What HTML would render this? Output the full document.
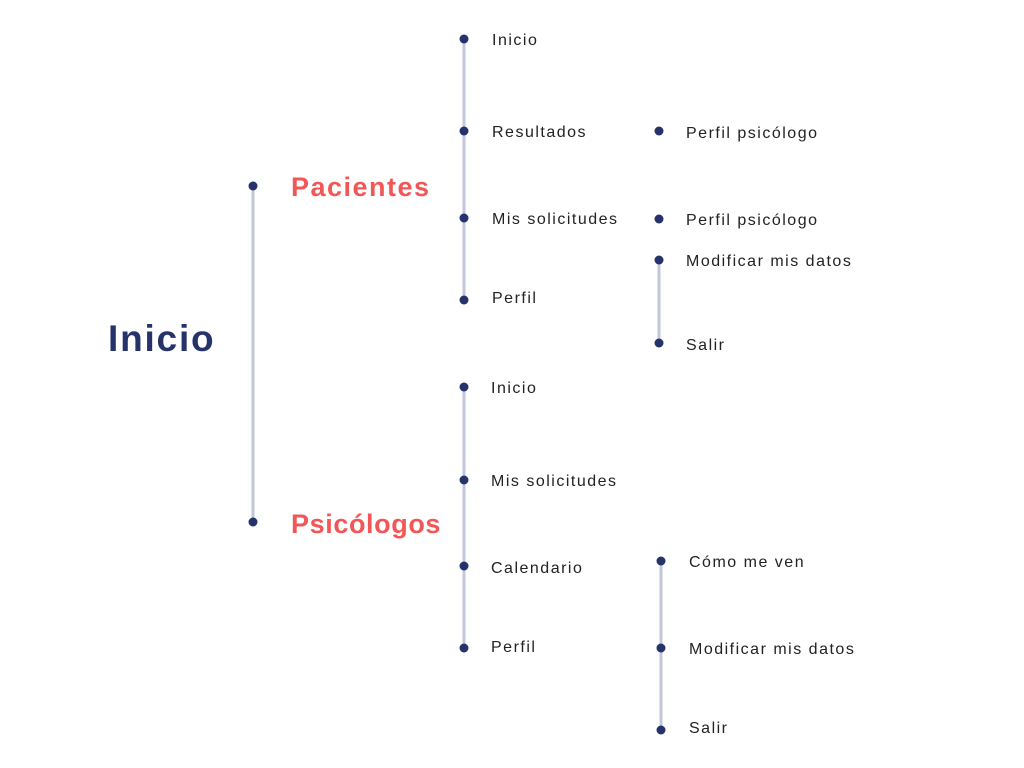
<!DOCTYPE html>
<html><head><meta charset="utf-8"><style>
html,body{margin:0;padding:0;background:#fff;}
svg{display:block;}
text{font-family:"Liberation Sans",sans-serif;}
.t{font-size:16px;fill:#222;letter-spacing:1.5px;}
</style></head><body>
<svg width="1024" height="768" viewBox="0 0 1024 768">
<g stroke="#c2c7da" stroke-width="3">
<line x1="253" y1="186" x2="253" y2="522"/>
<line x1="464" y1="39" x2="464" y2="299"/>
<line x1="464" y1="387" x2="464" y2="648"/>
<line x1="659" y1="260" x2="659" y2="343"/>
<line x1="661" y1="561" x2="661" y2="730"/>
</g>
<g fill="#26336b">
<circle cx="253" cy="186" r="4.5"/><circle cx="253" cy="522" r="4.5"/>
<circle cx="464" cy="39" r="4.5"/><circle cx="464" cy="131" r="4.5"/><circle cx="464" cy="218" r="4.5"/><circle cx="464" cy="300" r="4.5"/>
<circle cx="464" cy="387" r="4.5"/><circle cx="464" cy="480" r="4.5"/><circle cx="464" cy="566" r="4.5"/><circle cx="464" cy="648" r="4.5"/>
<circle cx="659" cy="131" r="4.5"/><circle cx="659" cy="219" r="4.5"/><circle cx="659" cy="260" r="4.5"/><circle cx="659" cy="343" r="4.5"/>
<circle cx="661" cy="561" r="4.5"/><circle cx="661" cy="648" r="4.5"/><circle cx="661" cy="730" r="4.5"/>
</g>
<text x="108" y="351" font-size="37" font-weight="bold" fill="#26336b" letter-spacing="1.8">Inicio</text>
<text x="291" y="196" font-size="27" font-weight="bold" fill="#f25757" letter-spacing="1.5">Pacientes</text>
<text x="291" y="533" font-size="27" font-weight="bold" fill="#f25757" letter-spacing="0.6">Psicólogos</text>
<text class="t" x="492" y="45">Inicio</text>
<text class="t" x="492" y="137">Resultados</text>
<text class="t" x="492" y="224">Mis solicitudes</text>
<text class="t" x="492" y="303">Perfil</text>
<text class="t" x="491" y="393">Inicio</text>
<text class="t" x="491" y="486">Mis solicitudes</text>
<text class="t" x="491" y="573">Calendario</text>
<text class="t" x="491" y="652">Perfil</text>
<text class="t" x="686" y="138">Perfil psicólogo</text>
<text class="t" x="686" y="225">Perfil psicólogo</text>
<text class="t" x="686" y="266">Modificar mis datos</text>
<text class="t" x="686" y="350">Salir</text>
<text class="t" x="689" y="567">Cómo me ven</text>
<text class="t" x="689" y="654">Modificar mis datos</text>
<text class="t" x="689" y="733">Salir</text>
</svg>
</body></html>
